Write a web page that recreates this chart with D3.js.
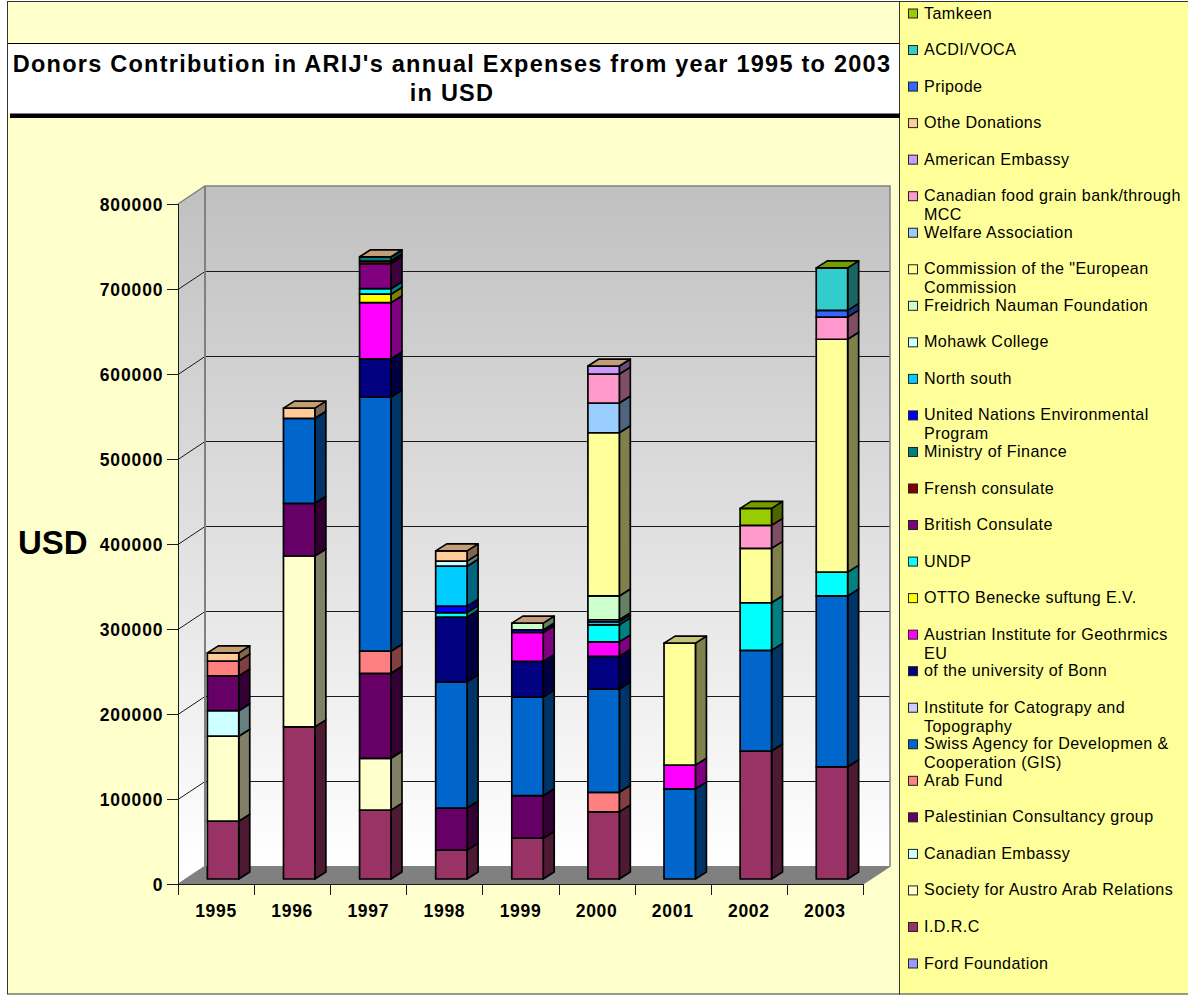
<!DOCTYPE html>
<html><head><meta charset="utf-8">
<script src="https://cdn.jsdelivr.net/npm/d3@7/dist/d3.min.js"></script>
<style>html,body{margin:0;padding:0;background:#fff}svg{display:block}text{font-family:"Liberation Sans",Arial,sans-serif;fill:#000}</style>
</head><body><svg id="c" width="1188" height="995"></svg>
<script>
const years=["1995","1996","1997","1998","1999","2000","2001","2002","2003"];
const yTicks=[0,100000,200000,300000,400000,500000,600000,700000,800000];
const titleLines=["Donors Contribution in ARIJ's annual Expenses from year 1995 to 2003","in USD"];
const axisTitle="USD";
// series in stacking order (bottom first); null = no entry for that year
const _=null;
const ford        =[_,_,_,_,_,_,_,_,_];
const idrc        =[68000,179000,81000,34000,48000,79000,_,150500,132000];
const society     =[100000,201000,61000,_,_,_,_,_,_];
const canEmbassy  =[30000,_,_,_,_,_,_,_,_];
const palestinian =[41000,62000,100000,49500,50000,_,_,_,_];
const arabFund    =[17500,_,26000,_,_,23000,_,_,_];
const swiss       =[_,100000,299000,148500,116000,121500,106000,118500,201000];
const institute   =[_,_,_,_,_,_,_,_,_];
const bonn        =[_,_,45000,76000,42000,38500,_,_,_];
const austrian    =[_,_,66000,_,34000,17000,28000,_,_];
const otto        =[_,_,10000,_,_,_,_,_,_];
const undp        =[_,_,6500,5500,_,20000,_,56000,28000];
const british     =[_,_,29500,_,_,_,_,_,_];
const frensh      =[_,_,3000,_,_,_,_,_,_];
const ministry    =[_,_,5000,_,_,_,_,_,_];
const unEnv       =[_,_,_,7500,3000,_,_,_,_];
const northSouth  =[_,_,_,47000,_,3500,_,_,_];
const mohawk      =[_,_,_,6000,_,2500,_,_,_];
const freidrich   =[_,_,_,_,8000,28000,_,_,_];
const commission  =[_,_,_,_,_,192000,143500,64000,274000];
const welfare     =[_,_,_,_,_,35000,_,_,_];
const canFood     =[_,_,_,_,_,34000,_,27000,26000];
const american    =[_,_,_,_,_,9500,_,_,_];
const otheDon     =[9500,12000,0,12000,0,0,_,_,_];
const pripode     =[_,_,_,_,_,_,_,_,8000];
const acdi        =[_,_,_,_,_,_,_,_,50000];
const tamkeen     =[_,_,_,_,_,_,_,20000,0];
const seriesNames=["Ford Foundation","I.D.R.C","Society for Austro Arab Relations","Canadian Embassy","Palestinian Consultancy group","Arab Fund","Swiss Agency for Developmen &\nCooperation (GIS)","Institute for Catograpy and\nTopography","of the university of Bonn","Austrian Institute for Geothrmics\nEU","OTTO Benecke suftung E.V.","UNDP","British Consulate","Frensh consulate","Ministry of Finance","United Nations Environmental\nProgram","North south","Mohawk College","Freidrich Nauman Foundation","Commission of the \"European\nCommission","Welfare Association","Canadian food grain bank/through\nMCC","American Embassy","Othe Donations","Pripode","ACDI/VOCA","Tamkeen"];
const seriesValues=[ford,idrc,society,canEmbassy,palestinian,arabFund,swiss,institute,bonn,austrian,otto,undp,british,frensh,ministry,unEnv,northSouth,mohawk,freidrich,commission,welfare,canFood,american,otheDon,pripode,acdi,tamkeen];
const seriesColors=["#9999FF","#993366","#FFFFCC","#CCFFFF","#660066","#FF8080","#0066CC","#CCCCFF","#000080","#FF00FF","#FFFF00","#00FFFF","#800080","#800000","#008080","#0000FF","#00CCFF","#CCFFFF","#CCFFCC","#FFFF99","#99CCFF","#FF99CC","#CC99FF","#FFCC99","#3366FF","#33CCCC","#99CC00"];

const svg=d3.select("#c");
const x=d3.scaleBand().domain(years).range([178,863]);
const y=d3.scaleLinear().domain([0,800000]).range([884,204]);
const wallDx=27,wallDy=-18,barW=31.4,barDx=11,barDy=-7,barShiftX=7,barShiftY=-5;
const poly=p=>p.map(a=>a.join(",")).join(" ");
const shade=(c,k)=>{const r=d3.rgb(c);return d3.rgb(r.r*k,r.g*k,r.b*k).formatHex();};
const crisp=v=>Math.round(v)+0.5;

// panels
svg.append("rect").attr("x",7.5).attr("y",1.5).attr("width",892).attr("height",992.5).attr("fill","#FFFFCC").attr("stroke","#333").attr("stroke-width",1);
svg.append("rect").attr("x",899.5).attr("y",1.5).attr("width",289).attr("height",992.5).attr("fill","#FFFF99").attr("stroke","#333").attr("stroke-width",1);
// title
svg.append("rect").attr("x",10).attr("y",113).attr("width",890).attr("height",5).attr("fill","#000");
svg.append("rect").attr("x",8).attr("y",43.5).attr("width",891).attr("height",70).attr("fill","#fff");
svg.append("line").attr("x1",8).attr("x2",899).attr("y1",43.5).attr("y2",43.5).attr("stroke","#000");
svg.selectAll("text.title").data(titleLines).join("text").attr("class","title").attr("x",452).attr("y",(d,i)=>72+i*29)
  .attr("text-anchor","middle").attr("font-size",23.5).attr("font-weight","bold").attr("letter-spacing",1.25).text(d=>d);

// walls
const defs=svg.append("defs");
const g=defs.append("linearGradient").attr("id","wall").attr("gradientUnits","userSpaceOnUse").attr("x1",0).attr("x2",0).attr("y1",y(800000)+wallDy).attr("y2",y(0)+wallDy);
g.append("stop").attr("offset",0).attr("stop-color","#C0C0C0");
g.append("stop").attr("offset",1).attr("stop-color","#FFFFFF");
const [x0,x1]=x.range(), yB=y(0), yT=y(800000);
svg.append("polygon").attr("points",poly([[x0,yB],[x0,yT],[x0+wallDx,yT+wallDy],[x0+wallDx,yB+wallDy]])).attr("fill","url(#wall)");
svg.append("rect").attr("x",x0+wallDx).attr("y",yT+wallDy).attr("width",x1-x0).attr("height",yB-yT).attr("fill","url(#wall)");
svg.append("polygon").attr("points",poly([[x0,yB],[x0+wallDx,yB+wallDy],[x1+wallDx,yB+wallDy],[x1,yB]])).attr("fill","#808080");
// gridlines
yTicks.slice(1,-1).forEach(t=>{
  svg.append("polyline").attr("points",poly([[x0,crisp(y(t))],[x0+wallDx,crisp(y(t)+wallDy)],[x1+wallDx,crisp(y(t)+wallDy)]])).attr("fill","none").attr("stroke","#1a1a1a").attr("stroke-width",1);
});
svg.append("polyline").attr("points",poly([[x0,yT],[x0+wallDx,yT+wallDy],[x1+wallDx,yT+wallDy],[x1+wallDx,yB+wallDy],[x1,yB]])).attr("fill","none").attr("stroke","#808080").attr("stroke-width",1.5);
svg.append("line").attr("x1",x0+wallDx).attr("x2",x0+wallDx).attr("y1",yT+wallDy).attr("y2",yB+wallDy).attr("stroke","#808080").attr("stroke-width",2);
svg.append("line").attr("x1",x0).attr("x2",x0+wallDx).attr("y1",yB).attr("y2",yB+wallDy).attr("stroke","#808080");

// bars
const rows=years.map((yr,i)=>{const o={};seriesNames.forEach((n,s)=>o[n]=seriesValues[s][i]||0);return o;});
const stacked=d3.stack().keys(seriesNames)(rows);
const barsG=svg.append("g").attr("stroke","#000").attr("stroke-width",1.7).attr("stroke-linejoin","round");
years.forEach((yr,i)=>{
  const left=x(yr)+(x.bandwidth()-barW)/2+barShiftX, right=left+barW;
  let last=-1;
  seriesValues.forEach((v,s)=>{if(v[i]!==null)last=s;});
  seriesNames.forEach((n,s)=>{
    const v=seriesValues[s][i]; if(v===null||v===0)return;
    const [a,b]=stacked[s][i];
    const ya=y(a)+barShiftY, yb=y(b)+barShiftY, col=seriesColors[s];
    barsG.append("polygon").attr("points",poly([[right,ya],[right,yb],[right+barDx,yb+barDy],[right+barDx,ya+barDy]])).attr("fill",shade(col,0.5));
    barsG.append("rect").attr("x",left).attr("y",yb).attr("width",barW).attr("height",ya-yb).attr("fill",col);
  });
  const top=y(stacked[last][i][1])+barShiftY;
  barsG.append("polygon").attr("points",poly([[left,top],[left+barDx,top+barDy],[right+barDx,top+barDy],[right,top]])).attr("fill",shade(seriesColors[last],0.77));
});

// axes
const ax=svg.append("g").attr("stroke","#1a1a1a").attr("stroke-width",1);
ax.append("line").attr("x1",crisp(x0)).attr("x2",crisp(x0)).attr("y1",yT).attr("y2",yB+11);
ax.append("line").attr("x1",x0).attr("x2",x1).attr("y1",crisp(yB)).attr("y2",crisp(yB));
yTicks.forEach(t=>ax.append("line").attr("x1",x0-11).attr("x2",x0).attr("y1",crisp(y(t))).attr("y2",crisp(y(t))));
years.forEach(yr=>ax.append("line").attr("x1",crisp(x(yr)+x.bandwidth())).attr("x2",crisp(x(yr)+x.bandwidth())).attr("y1",yB).attr("y2",yB+11));
svg.selectAll("text.yt").data(yTicks).join("text").attr("class","yt").attr("x",163.5).attr("y",t=>y(t)+7).attr("text-anchor","end")
  .attr("font-size",17.5).attr("font-weight","bold").attr("letter-spacing",0.9).text(d=>d);
svg.selectAll("text.xt").data(years).join("text").attr("class","xt").attr("x",d=>x(d)+x.bandwidth()/2).attr("y",917).attr("text-anchor","middle")
  .attr("font-size",17.5).attr("font-weight","bold").attr("letter-spacing",0.7).text(d=>d);
svg.append("text").attr("x",18).attr("y",554).attr("font-size",33).attr("font-weight","bold").text(axisTitle);

// legend (top = last series)
const lgY=d3.scalePoint().domain(seriesNames.slice().reverse()).range([13,963]);
seriesNames.forEach((n,s)=>{
  const yy=lgY(n);
  svg.append("rect").attr("x",908.5).attr("y",yy-4).attr("width",9).attr("height",9).attr("fill",seriesColors[s]).attr("stroke","#222").attr("stroke-width",1);
  n.split("\n").forEach((line,k)=>{
    svg.append("text").attr("x",924).attr("y",yy+5.5+k*19).attr("font-size",16.1).attr("letter-spacing",0.42).text(line);
  });
});
</script></body></html>
